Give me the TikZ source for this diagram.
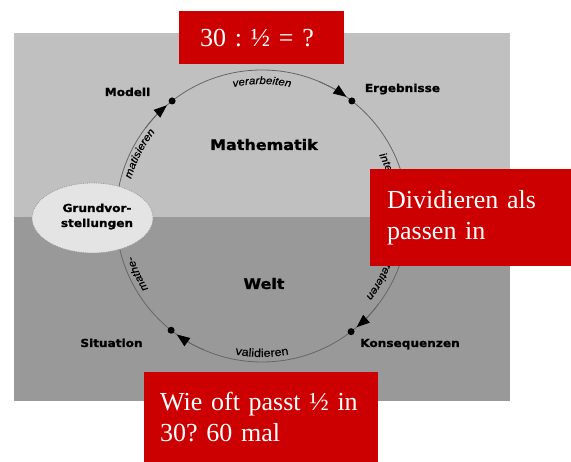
\documentclass[tikz,border=0pt]{standalone}
\usepackage{fontspec}
\setmainfont{Liberation Serif}
\newfontfamily\lblfont[FakeStretch=1.1,FakeBold=1.2]{DejaVu Sans}
\newfontfamily\arcfont[FakeStretch=1.1,FakeBold=0.4]{Liberation Sans}
\usetikzlibrary{calc,shapes.geometric,decorations.text,arrows.meta}
\definecolor{lightpanel}{HTML}{C0C0C0}
\definecolor{darkpanel}{HTML}{999999}
\definecolor{boxred}{HTML}{CC0000}
\definecolor{ringgray}{HTML}{666666}
\definecolor{ovalfill}{HTML}{E4E4E4}
\definecolor{ovalline}{HTML}{9A9A9A}
\frenchspacing
\begin{document}
\begin{tikzpicture}[x=1pt,y=1pt,
  redbox/.style={fill=boxred, text=white, font=\frenchspacing\fontsize{26}{31.5}\selectfont, align=left, inner ysep=0pt, anchor=north west},
  lbl/.style={font=\lblfont\bfseries\fontsize{11}{14}\selectfont, anchor=base, inner sep=0pt},
  biglbl/.style={font=\lblfont\bfseries\fontsize{14.5}{17}\selectfont, anchor=base, inner sep=0pt},
  dotmark/.style={circle, fill=black, minimum size=7pt, inner sep=0pt},
  tipline/.style={ringgray, line width=0.8pt, -{Triangle[length=13pt,width=10pt,color=black]}},
  ring/.style={ringgray, line width=0.8pt},
]
\useasboundingbox (0,0) rectangle (571,462);
% panels
\fill[lightpanel] (14,245) rectangle (510,429);
\fill[darkpanel] (14,61) rectangle (510,245);
% cycle
\coordinate (c) at (262,246);
\draw[ring] (c) circle[radius=146];
% arrows
\draw[tipline] ($(c)+(143:146)$) arc[start angle=143, end angle=130.7, radius=146];
\draw[tipline] ($(c)+(67:146)$) arc[start angle=67, end angle=54.7, radius=146];
\draw[tipline] ($(c)+(-37.4:146)$) arc[start angle=-37.4, end angle=-49.6, radius=146];
\draw[tipline] ($(c)+(246.5:146)$) arc[start angle=246.5, end angle=234.3, radius=146];
% dots
\node[dotmark] (dmod) at ($(c)+(128:146)$) {};
\node[dotmark] (derg) at ($(c)+(52:146)$) {};
\node[dotmark] (dkon) at ($(c)+(-52.4:146)$) {};
\node[dotmark] (dsit) at ($(c)+(231.5:146)$) {};
% arc labels
\path[decorate, decoration={text along path, text align=center,
  text={|\arcfont\itshape\fontsize{10.5}{12}\selectfont|verarbeiten}}]
  ($(c)+(112:132)$) arc[start angle=112, end angle=68, radius=132];
\path[decorate, decoration={text along path, text align=center,
  text={|\arcfont\itshape\fontsize{10.5}{12}\selectfont|matisieren}}]
  ($(c)+(178:136)$) arc[start angle=178, end angle=128, radius=136];
\path[decorate, decoration={text along path, text align=center,
  text={|\arcfont\itshape\fontsize{10.5}{12}\selectfont|mathe-}}]
  ($(c)+(225:135)$) arc[start angle=225, end angle=185, radius=135];
\path[decorate, decoration={text along path, text align=center,
  text={|\arcfont\itshape\fontsize{10.5}{12}\selectfont|inter-}}]
  ($(c)+(40:132)$) arc[start angle=40, end angle=3.5, radius=132];
\path[decorate, decoration={text along path, text align=center,
  text={|\arcfont\itshape\fontsize{10.5}{12}\selectfont|pretieren}}]
  ($(c)+(-8:132)$) arc[start angle=-8, end angle=-48, radius=132];
\path[decorate, decoration={text along path, text align=center,
  text={|\arcfont\fontsize{11.5}{13}\selectfont|validieren}}]
  ($(c)+(245:141)$) arc[start angle=245, end angle=295, radius=141];
% Grundvorstellungen
\node[ellipse, draw=ovalline, densely dotted, line width=0.8pt, fill=ovalfill,
  minimum width=121pt, minimum height=70pt, inner sep=0pt] (gv) at (92.5,244) {};
\node[font=\lblfont\bfseries\fontsize{11}{15}\selectfont, align=center, inner sep=0pt]
  (gvtext) at (97,245.5) {Grundvor-\\stellungen};
% labels
\node[lbl] (modell) at (127.5,366) {Modell};
\node[lbl] (ergeb) at (402.5,370) {Ergebnisse};
\node[biglbl] (mathe) at (264,312) {Mathematik};
\node[biglbl] (welt) at (264,173) {Welt};
\node[lbl] (sit) at (111.5,115) {Situation};
\node[lbl] (kons) at (410,115) {Konsequenzen};
% red boxes
\node[redbox, minimum width=165pt, minimum height=53pt, text width=123pt, inner xsep=21pt]
  (q1) at (179,451) {30 : ½ = ?};
\node[redbox, minimum width=201pt, minimum height=97pt, text width=167pt, inner xsep=17pt]
  (q2) at (370,293) {Dividieren als\\passen in};
\node[redbox, minimum width=234pt, minimum height=90pt, text width=202pt, inner xsep=16pt]
  (q3) at (144,90) {Wie oft passt ½ in\\30? 60 mal};
\end{tikzpicture}
\end{document}
